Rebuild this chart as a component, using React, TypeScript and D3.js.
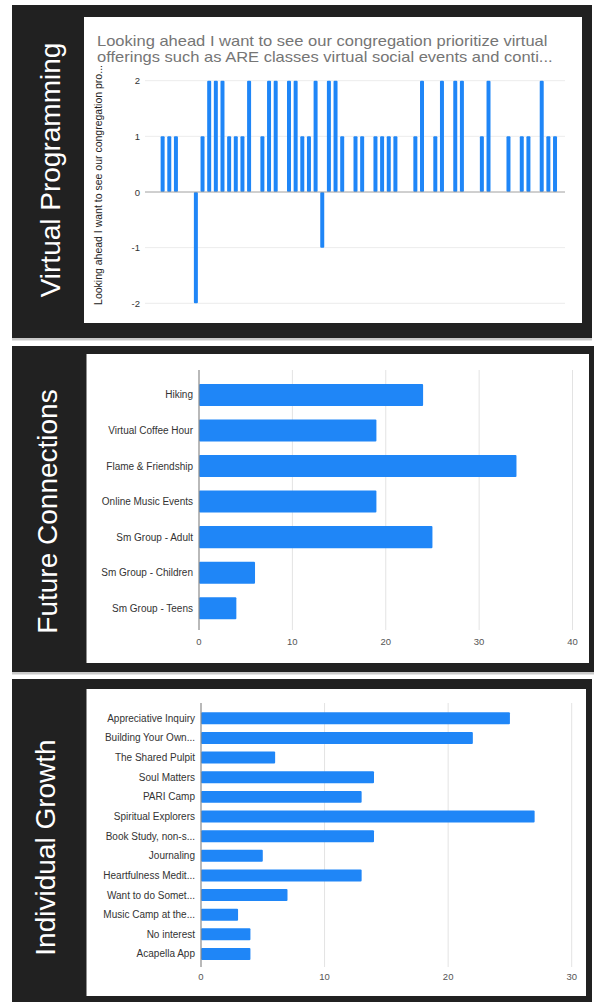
import React from "react";
import * as d3 from "d3";

const W = 594;
const H = 1002;
const BLUE = "#1f86f7";
const FONT = "'Liberation Sans', Arial, sans-serif";

// Panel 1: Virtual Programming (one bar per respondent)
const vpTitle1 = "Looking ahead I want to see our congregation prioritize virtual";
const vpTitle2 = "offerings such as ARE classes virtual social events and conti...";
const vpAxisTitle = "Looking ahead I want to see our congregation pro...";
const vpValues = [
  0, 0,
  1, 1, 1, 0, 0, -2, 1, 2, 2, 2, 1, 1, 1, 2, 0, 1, 2, 2,
  0, 2, 2, 1, 1, 2, -1, 2, 2, 1, 0, 1, 1, 0, 1, 1, 1, 1,
  0, 0, 1, 2, 0, 1, 2, 0, 2, 2, 0, 0, 1, 2, 0, 0, 1, 0,
  1, 1, 0, 2, 1, 1,
  0,
];
const vpTicks = [2, 1, 0, -1, -2];

// Panel 2: Future Connections
const fcCategories = [
  "Hiking",
  "Virtual Coffee Hour",
  "Flame & Friendship",
  "Online Music Events",
  "Sm Group - Adult",
  "Sm Group - Children",
  "Sm Group - Teens",
];
const fcValues = [24, 19, 34, 19, 25, 6, 4];
const fcTicks = [0, 10, 20, 30, 40];

// Panel 3: Individual Growth
const igCategories = [
  "Appreciative Inquiry",
  "Building Your Own...",
  "The Shared Pulpit",
  "Soul Matters",
  "PARI Camp",
  "Spiritual Explorers",
  "Book Study, non-s...",
  "Journaling",
  "Heartfulness Medit...",
  "Want to do Somet...",
  "Music Camp at the...",
  "No interest",
  "Acapella App",
];
const igValues = [25, 22, 6, 14, 13, 27, 14, 5, 13, 7, 3, 4, 4];
const igTicks = [0, 10, 20, 30];

const panelTitles = ["Virtual Programming", "Future Connections", "Individual Growth"];

function Panel({ x0, y0, x1, y1, wx0, wy0, wx1, wy1, title, tx, ty }: any) {
  return (
    <g>
      <rect x={x0} y={y1} width={x1 - x0} height={2.5} fill="#c9c9c9" />
      <rect x={x0} y={y0} width={x1 - x0} height={y1 - y0} fill="#212121" />
      <rect x={wx0} y={wy0} width={wx1 - wx0} height={wy1 - wy0} fill="#ffffff" />
      <text
        transform={`translate(${tx},${ty}) rotate(-90)`}
        textAnchor="middle"
        fill="#ffffff"
        fontFamily={FONT}
        fontSize={28}
      >
        {title}
      </text>
    </g>
  );
}

function VirtualChart() {
  const x = d3
    .scaleBand<number>()
    .domain(d3.range(vpValues.length))
    .range([146, 565])
    .paddingInner(0.4)
    .paddingOuter(0.2);
  const y = d3.scaleLinear().domain([-2, 2]).range([303.3, 80.7]);
  return (
    <g>
      <g transform="translate(97,0) scale(1.18,1)">
        <text x={0} y={46.5} fill="#757575" fontFamily={FONT} fontSize={14}>
          {vpTitle1}
        </text>
        <text x={0} y={62.5} fill="#757575" fontFamily={FONT} fontSize={14}>
          {vpTitle2}
        </text>
      </g>
      <text
        transform={`translate(102,185) rotate(-90)`}
        textAnchor="middle"
        fill="#222"
        fontFamily={FONT}
        fontSize={10.5}
      >
        {vpAxisTitle}
      </text>
      {vpTicks.map((t) => (
        <g key={t}>
          {t !== 0 && (
            <line x1={145} x2={565} y1={y(t)} y2={y(t)} stroke="#ececec" strokeWidth={1} />
          )}
          <text
            x={140}
            y={y(t) + 3.5}
            textAnchor="end"
            fill="#333"
            fontFamily={FONT}
            fontSize={9.5}
          >
            {t}
          </text>
        </g>
      ))}
      {vpValues.map((v, i) =>
        v === 0 ? null : (
          <rect
            key={i}
            x={x(i)}
            width={x.bandwidth()}
            y={Math.min(y(v), y(0))}
            height={Math.abs(y(v) - y(0))}
            fill={BLUE}
            rx={1}
          />
        )
      )}
      <line x1={145} x2={565} y1={y(0)} y2={y(0)} stroke="#a0a0a0" strokeWidth={1} />
    </g>
  );
}

function HBarChart({ cats, vals, ticks, xr, yr, pad, axisTop, axisBottom, labelY, labelGap }: any) {
  const x = d3.scaleLinear().domain([0, ticks[ticks.length - 1]]).range(xr);
  const y = d3
    .scaleBand<string>()
    .domain(cats)
    .range(yr)
    .paddingInner(pad)
    .paddingOuter(pad / 2);
  return (
    <g>
      {ticks.map((t: number) => (
        <g key={t}>
          {t !== 0 && (
            <line x1={x(t)} x2={x(t)} y1={axisTop} y2={axisBottom} stroke="#e3e3e3" strokeWidth={1} />
          )}
          <text x={x(t)} y={labelY} textAnchor="middle" fill="#555" fontFamily={FONT} fontSize={9.5}>
            {t}
          </text>
        </g>
      ))}
      {cats.map((c: string, i: number) => (
        <g key={c}>
          <rect
            x={x(0)}
            y={y(c)}
            width={x(vals[i]) - x(0)}
            height={y.bandwidth()}
            fill={BLUE}
            rx={1}
          />
          <text
            x={x(0) - labelGap}
            y={(y(c) as number) + y.bandwidth() / 2 + 3.5}
            textAnchor="end"
            fill="#333"
            fontFamily={FONT}
            fontSize={10}
          >
            {c}
          </text>
        </g>
      ))}
      <line x1={x(0)} x2={x(0)} y1={axisTop} y2={axisBottom} stroke="#8a8a8a" strokeWidth={1.2} />
    </g>
  );
}

export default function App() {
  return (
    <svg
      width={W}
      height={H}
      viewBox={`0 0 ${W} ${H}`}
      style={{ position: "absolute", left: 0, top: 0, display: "block", background: "#fff" }}
    >
      <rect x={0} y={0} width={W} height={H} fill="#ffffff" />
      <Panel x0={12} y0={5} x1={592} y1={338} wx0={84} wy0={17} wx1={582} wy1={323}
        title={panelTitles[0]} tx={60} ty={170} />
      <Panel x0={12} y0={346} x1={594} y1={672} wx0={86.5} wy0={354} wx1={589} wy1={663}
        title={panelTitles[1]} tx={57} ty={511.5} />
      <Panel x0={12} y0={679} x1={592} y1={1002} wx0={86.5} wy0={689} wx1={586} wy1={996}
        title={panelTitles[2]} tx={55} ty={847.5} />
      <VirtualChart />
      <HBarChart cats={fcCategories} vals={fcValues} ticks={fcTicks}
        xr={[199, 572.5]} yr={[377.2, 626]} pad={0.38}
        axisTop={370} axisBottom={630} labelY={645} labelGap={6} />
      <HBarChart cats={igCategories} vals={igValues} ticks={igTicks}
        xr={[201, 571.7]} yr={[708.5, 963.8]} pad={0.39}
        axisTop={703} axisBottom={967} labelY={980} labelGap={6} />
    </svg>
  );
}
